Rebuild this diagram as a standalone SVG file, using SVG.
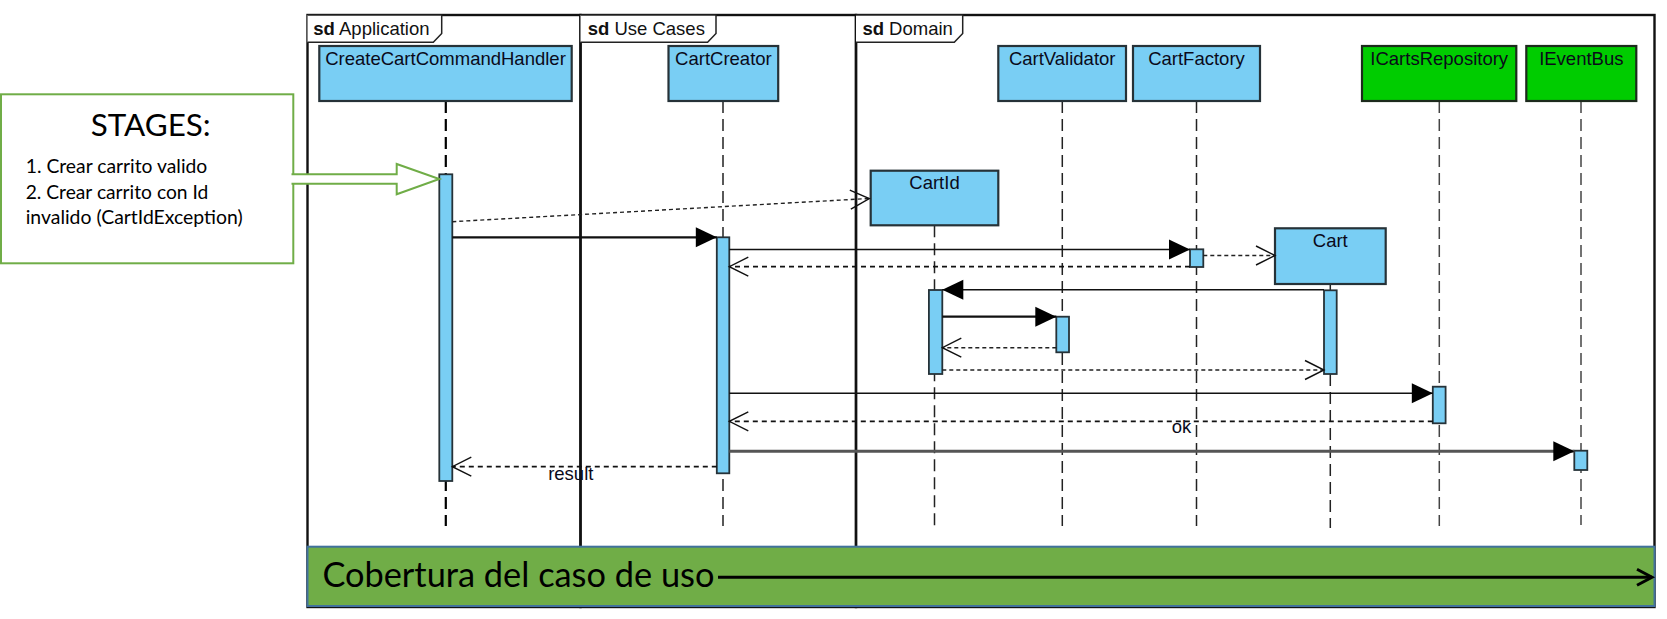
<svg xmlns="http://www.w3.org/2000/svg" width="1667" height="619" viewBox="0 0 1667 619">
<defs>
<marker id="filled" markerUnits="userSpaceOnUse" markerWidth="1" markerHeight="1" refX="0" refY="0" orient="auto" overflow="visible">
<path d="M0,0 L-21,-10 L-21,10 Z" fill="#000"/>
</marker>
<marker id="open" markerUnits="userSpaceOnUse" markerWidth="1" markerHeight="1" refX="0" refY="0" orient="auto" overflow="visible">
<path d="M-19,-9.5 L0,0 L-19,9.5" fill="none" stroke="#111" stroke-width="1.4"/>
</marker>
<marker id="chev" markerUnits="userSpaceOnUse" markerWidth="1" markerHeight="1" refX="0" refY="0" orient="auto" overflow="visible">
<path d="M-15,-8 L0,0 L-15,8" fill="none" stroke="#000" stroke-width="3"/>
</marker>
</defs>
<style>
.frame{fill:none;stroke:#111;stroke-width:2.4}
.tab{fill:#fff;stroke:#222;stroke-width:1.5}
.tabt{font-family:'Liberation Sans',Arial,sans-serif;font-size:18.5px;fill:#111}
.box{fill:#79CEF4;stroke:#263238;stroke-width:2.2}
.gbox{fill:#00CC00;stroke:#1c2a1c;stroke-width:2.2}
.lbl{font-family:'Liberation Sans',Arial,sans-serif;font-size:18.5px;fill:#0a0a1a;text-anchor:middle}
.life{stroke:#222;stroke-width:1.5;stroke-dasharray:12 6;fill:none}
.act{fill:#79CEF4;stroke:#263238;stroke-width:1.8}
.sync{stroke:#111;stroke-width:1.4;fill:none;marker-end:url(#filled)}
.syncb{stroke:#111;stroke-width:2.2;fill:none;marker-end:url(#filled)}
.syncg{stroke:#555;stroke-width:3;fill:none;marker-end:url(#filled)}
.ret{stroke:#111;stroke-width:1.7;stroke-dasharray:5 4;fill:none;marker-end:url(#open)}
.create{stroke:#222;stroke-width:1.4;stroke-dasharray:4 3;fill:none;marker-end:url(#open)}
.note{font-family:Lato,'Liberation Sans',sans-serif;fill:#000}
</style>

<g id="frames">
<g id="frame-application">
<rect class="frame" x="307.5" y="15" width="273" height="592"/>
<path class="tab" d="M307.5,15 H441.7 V33.5 L433.3,42.3 H307.5"/>
<text class="tabt" x="313.3" y="35"><tspan font-weight="bold">sd</tspan> Application</text>
</g>
<g id="frame-usecases">
<rect class="frame" x="580.5" y="15" width="275.5" height="592"/>
<path class="tab" d="M580.5,15 H716 V33.5 L707.6,42.3 H580.5"/>
<text class="tabt" x="587.7" y="35"><tspan font-weight="bold">sd</tspan> Use Cases</text>
</g>
<g id="frame-domain">
<rect class="frame" x="856" y="15" width="798.5" height="592"/>
<path class="tab" d="M856,15 H962.7 V33.5 L954.3,42.3 H856"/>
<text class="tabt" x="862.4" y="35"><tspan font-weight="bold">sd</tspan> Domain</text>
</g>
</g>

<g id="node-CreateCartCommandHandler">
<line class="life" x1="445.8" y1="101" x2="445.8" y2="526" style="stroke:#000;stroke-width:2.2"/>
<rect class="box" x="319.3" y="46" width="252.4" height="55"/>
<text class="lbl" x="445.5" y="64.5">CreateCartCommandHandler</text>
<rect class="act" x="439.3" y="174.3" width="13" height="306.7"/>
</g>

<g id="node-CartCreator">
<line class="life" x1="723" y1="101" x2="723" y2="526"/>
<rect class="box" x="668.5" y="46" width="109.7" height="55"/>
<text class="lbl" x="723.4" y="64.5">CartCreator</text>
<rect class="act" x="716.8" y="237.3" width="12.5" height="236"/>
</g>

<g id="node-CartId">
<line class="life" x1="934.5" y1="225.3" x2="934.5" y2="526"/>
<rect class="box" x="870.7" y="170.7" width="127.6" height="54.6"/>
<text class="lbl" x="934.5" y="189.3">CartId</text>
<rect class="act" x="928.9" y="290" width="13.4" height="84"/>
</g>

<g id="node-CartValidator">
<line class="life" x1="1062.3" y1="101" x2="1062.3" y2="526"/>
<rect class="box" x="998.3" y="46" width="127.7" height="55"/>
<text class="lbl" x="1062.2" y="64.5">CartValidator</text>
<rect class="act" x="1056.3" y="316.7" width="12.7" height="35.6"/>
</g>

<g id="node-CartFactory">
<line class="life" x1="1196.5" y1="101" x2="1196.5" y2="526"/>
<rect class="box" x="1133" y="46" width="127" height="55"/>
<text class="lbl" x="1196.5" y="64.5">CartFactory</text>
<rect class="act" x="1190" y="249.3" width="13.3" height="17.7"/>
</g>

<g id="node-Cart">
<line class="life" x1="1330.3" y1="284" x2="1330.3" y2="528"/>
<rect class="box" x="1275" y="228.3" width="110.7" height="55.7"/>
<text class="lbl" x="1330.3" y="247.3">Cart</text>
<rect class="act" x="1324" y="290.3" width="12.7" height="83.7"/>
</g>

<g id="node-ICartsRepository">
<line class="life" x1="1439.3" y1="101" x2="1439.3" y2="526" style="stroke:#444"/>
<rect class="gbox" x="1362" y="46" width="154.3" height="55"/>
<text class="lbl" x="1439.2" y="64.5">ICartsRepository</text>
<rect class="act" x="1432.8" y="386.7" width="12.8" height="36.6"/>
</g>

<g id="node-IEventBus">
<line class="life" x1="1581" y1="101" x2="1581" y2="525" style="stroke:#444"/>
<rect class="gbox" x="1526.3" y="46" width="110" height="55"/>
<text class="lbl" x="1581.3" y="64.5">IEventBus</text>
<rect class="act" x="1574.3" y="450.7" width="13" height="19.3"/>
</g>

<g id="connectors">
<path class="create" d="M452.3,221.7 L869.3,198.5"/>
<path class="syncb" d="M452.3,237.3 H716.8"/>
<path class="sync" d="M729.3,249.5 H1190"/>
<path class="create" d="M1203.3,255.5 H1275"/>
<path class="ret" d="M1190,266.7 H729.3"/>
<path class="sync" d="M1324,289.8 H942.3"/>
<path class="syncb" d="M942.3,316.7 H1056.3"/>
<path class="create" d="M1056.3,347.7 H942.3"/>
<path class="create" d="M942.3,370 H1324"/>
<path class="sync" d="M729.3,393.3 H1432.8"/>
<path class="ret" d="M1432.8,421.3 H729.3"/>
<text class="lbl" x="1181.5" y="433">ok</text>
<path class="syncg" d="M729.3,451.3 H1574.3"/>
<path class="ret" d="M716.8,466.7 H452.3"/>
<text class="lbl" x="570.8" y="479.5">result</text>
</g>

<g id="coverage">
<rect x="307.5" y="546.7" width="1347" height="59.3" fill="#70AD47" stroke="#41719C" stroke-width="2"/>
<text class="note" x="322.4" y="586.5" font-size="35" textLength="392" lengthAdjust="spacingAndGlyphs">Cobertura del caso de uso</text>
<path d="M718,577.3 H1652" stroke="#000" stroke-width="3" fill="none" marker-end="url(#chev)"/>
</g>

<g id="stages">
<rect x="1" y="94.3" width="292.3" height="169" fill="#fff" stroke="#70AD47" stroke-width="2"/>
<text class="note" x="150.7" y="136" font-size="31.7" text-anchor="middle" textLength="120" lengthAdjust="spacingAndGlyphs">STAGES:</text>
<text class="note" x="25.7" y="173.3" font-size="19" textLength="181.6" lengthAdjust="spacingAndGlyphs">1. Crear carrito valido</text>
<text class="note" x="25.7" y="199" font-size="19" textLength="182.6" lengthAdjust="spacingAndGlyphs">2. Crear carrito con Id</text>
<text class="note" x="25.7" y="223.5" font-size="19" textLength="217" lengthAdjust="spacingAndGlyphs">invalido (CartIdException)</text>
<path d="M291.5,174.3 H396.7 V164 L439.3,179 L396.7,194.3 V183.7 H291.5" fill="#fff" stroke="#70AD47" stroke-width="2"/>
</g>
</svg>
